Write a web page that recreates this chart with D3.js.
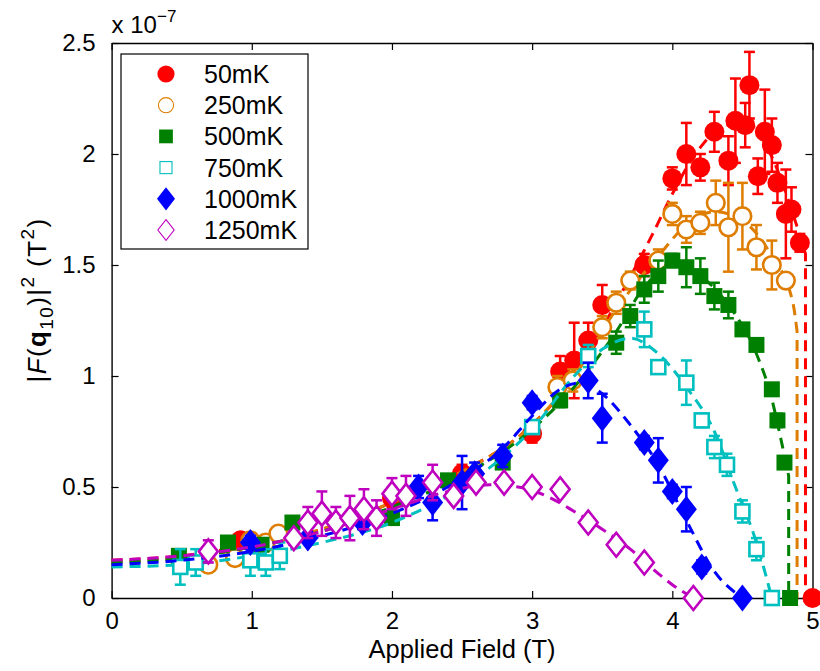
<!DOCTYPE html>
<html>
<head>
<meta charset="utf-8">
<script src="https://cdn.jsdelivr.net/npm/d3@7"></script>
<style>
  html, body { margin: 0; padding: 0; background: #fff; }
  text { font-family: "Liberation Sans", Arial, Helvetica, sans-serif; fill: #000; }
</style>
</head>
<body>
<svg id="chart" width="820" height="671"></svg>
<script>
// ---------- data (y in units of 1e-7 T^2) ----------
const seriesLabels = ["50mK", "250mK", "500mK", "750mK", "1000mK", "1250mK"];
const seriesColors = ["#ff0000", "#de7d00", "#008000", "#00bfbf", "#0000ff", "#bf00bf"];
const seriesShapes = ["circle", "circle", "square", "square", "diamond", "diamond"];
const seriesFilled = [true, false, true, false, true, false];

const field_50 = [0.92, 2.0, 2.5, 3.0, 3.2, 3.3, 3.4, 3.5, 3.8, 4.0, 4.1, 4.2, 4.3, 4.4, 4.45, 4.52, 4.55, 4.61, 4.66, 4.71, 4.75, 4.81, 4.85, 4.91, 5.0];
const value_50 = [0.26, 0.45, 0.56, 0.74, 1.02, 1.07, 1.16, 1.32, 1.50, 1.89, 2.00, 1.94, 2.10, 1.97, 2.15, 2.13, 2.31, 1.90, 2.10, 2.04, 1.87, 1.73, 1.75, 1.60, 0];
const error_50 = [0.03, 0.04, 0.04, 0.04, 0.07, 0.17, 0.08, 0.09, 0.05, 0.05, 0.14, 0.06, 0.09, 0.11, 0.19, 0.10, 0.15, 0.08, 0.19, 0.12, 0.09, 0.20, 0.10, 0.04, 0];

const field_250 = [0.69, 0.88, 0.99, 1.10, 1.19, 3.18, 3.29, 3.50, 3.60, 3.70, 3.90, 4.00, 4.10, 4.20, 4.31, 4.40, 4.50, 4.60, 4.71, 4.81];
const value_250 = [0.15, 0.18, 0.26, 0.25, 0.29, 0.95, 0.98, 1.22, 1.33, 1.43, 1.52, 1.73, 1.66, 1.69, 1.78, 1.67, 1.72, 1.58, 1.50, 1.43];
const error_250 = [0.03, 0.02, 0.03, 0.02, 0.03, 0.05, 0.05, 0.05, 0.05, 0.04, 0.05, 0.05, 0.06, 0.05, 0.10, 0.20, 0.15, 0.10, 0.11, 0.02];

const field_500 = [0.48, 0.83, 1.07, 1.29, 2.0, 2.4, 2.79, 3.2, 3.6, 3.7, 3.8, 3.9, 4.0, 4.1, 4.2, 4.3, 4.4, 4.5, 4.6, 4.71, 4.75, 4.8, 4.84];
const value_500 = [0.19, 0.25, 0.24, 0.34, 0.36, 0.53, 0.61, 0.89, 1.15, 1.27, 1.39, 1.45, 1.52, 1.49, 1.45, 1.36, 1.32, 1.21, 1.14, 0.94, 0.80, 0.61, 0];
const error_500 = [0.02, 0.02, 0.02, 0.02, 0.02, 0.02, 0.02, 0.03, 0.05, 0.05, 0.06, 0.07, 0.03, 0.09, 0.08, 0.06, 0.06, 0.02, 0.02, 0.02, 0.03, 0.02, 0];

const field_750 = [0.49, 0.60, 0.99, 1.10, 1.20, 3.0, 3.4, 3.8, 3.9, 4.1, 4.21, 4.3, 4.39, 4.5, 4.6, 4.71];
const value_750 = [0.14, 0.16, 0.17, 0.16, 0.19, 0.77, 1.09, 1.21, 1.04, 0.97, 0.80, 0.68, 0.60, 0.39, 0.22, 0];
const error_750 = [0.08, 0.06, 0.07, 0.06, 0.06, 0.03, 0.05, 0.08, 0.03, 0.10, 0.03, 0.05, 0.05, 0.05, 0.05, 0];

const field_1000 = [0.99, 1.40, 1.79, 2.19, 2.29, 2.50, 2.59, 2.79, 3.0, 3.4, 3.5, 3.8, 3.9, 4.0, 4.1, 4.21, 4.5];
const value_1000 = [0.25, 0.27, 0.34, 0.50, 0.43, 0.52, 0.56, 0.64, 0.88, 0.98, 0.81, 0.70, 0.62, 0.48, 0.40, 0.14, 0];
const error_1000 = [0.03, 0.02, 0.03, 0.05, 0.08, 0.12, 0.05, 0.05, 0.03, 0.08, 0.11, 0.03, 0.10, 0.03, 0.10, 0.03, 0];

const field_1250 = [0.69, 1.30, 1.40, 1.50, 1.60, 1.70, 1.80, 1.89, 2.0, 2.10, 2.29, 2.44, 2.60, 2.80, 3.0, 3.2, 3.4, 3.6, 3.8, 4.15];
const value_1250 = [0.21, 0.27, 0.34, 0.38, 0.34, 0.36, 0.40, 0.36, 0.47, 0.46, 0.52, 0.46, 0.52, 0.52, 0.50, 0.49, 0.34, 0.24, 0.16, 0];
const error_1250 = [0.05, 0.03, 0.07, 0.10, 0.07, 0.10, 0.09, 0.08, 0.07, 0.09, 0.08, 0.02, 0.02, 0.02, 0.02, 0.02, 0.02, 0.02, 0.02, 0];

// dashed model curves
const fitX_50 = [0, 0.5, 1, 1.5, 2, 2.5, 3, 3.3, 3.6, 3.86, 4.0, 4.2, 4.4, 4.55, 4.7, 4.85, 4.95, 4.95];
const fitY_50 = [0.17, 0.19, 0.24, 0.31, 0.43, 0.57, 0.78, 1.0, 1.33, 1.64, 1.82, 2.03, 2.13, 2.13, 2.0, 1.75, 1.55, 0];
const fitX_250 = [0, 0.5, 1, 1.5, 2, 2.5, 3, 3.3, 3.6, 3.9, 4.1, 4.3, 4.5, 4.7, 4.86, 4.89, 4.89];
const fitY_250 = [0.16, 0.18, 0.23, 0.31, 0.43, 0.57, 0.78, 1.0, 1.30, 1.54, 1.68, 1.74, 1.70, 1.55, 1.33, 1.2, 0];
const fitX_500 = [0, 0.5, 1, 1.5, 2, 2.5, 3, 3.3, 3.6, 3.8, 4.0, 4.2, 4.4, 4.6, 4.7, 4.78, 4.83, 4.83];
const fitY_500 = [0.16, 0.18, 0.23, 0.30, 0.41, 0.55, 0.76, 0.95, 1.20, 1.40, 1.50, 1.45, 1.32, 1.10, 0.92, 0.70, 0.55, 0];
const fitX_750 = [0, 0.5, 1, 1.5, 2, 2.5, 2.8, 3.0, 3.3, 3.5, 3.7, 3.9, 4.1, 4.3, 4.45, 4.6, 4.71];
const fitY_750 = [0.14, 0.15, 0.19, 0.25, 0.34, 0.50, 0.64, 0.76, 1.00, 1.12, 1.17, 1.10, 0.95, 0.75, 0.50, 0.25, 0];
const fitX_1000 = [0, 0.5, 1, 1.5, 2, 2.5, 2.8, 3.0, 3.2, 3.35, 3.5, 3.7, 3.9, 4.1, 4.3, 4.5];
const fitY_1000 = [0.15, 0.17, 0.21, 0.28, 0.38, 0.54, 0.68, 0.82, 0.94, 0.97, 0.92, 0.78, 0.60, 0.35, 0.12, 0];
const fitX_1250 = [0, 0.5, 1, 1.5, 2, 2.4, 2.7, 2.9, 3.1, 3.3, 3.5, 3.7, 3.9, 4.0, 4.15];
const fitY_1250 = [0.17, 0.19, 0.23, 0.30, 0.40, 0.48, 0.51, 0.50, 0.46, 0.39, 0.31, 0.22, 0.11, 0.06, 0];

const xTicks = [0, 1, 2, 3, 4, 5];
const yTicks = [0, 0.5, 1, 1.5, 2, 2.5];

// ---------- build ----------
const fields = [field_50, field_250, field_500, field_750, field_1000, field_1250];
const values = [value_50, value_250, value_500, value_750, value_1000, value_1250];
const errors = [error_50, error_250, error_500, error_750, error_1000, error_1250];
const fitXs = [fitX_50, fitX_250, fitX_500, fitX_750, fitX_1000, fitX_1250];
const fitYs = [fitY_50, fitY_250, fitY_500, fitY_750, fitY_1000, fitY_1250];

const svg = d3.select("#chart");
const L = 111.6, R = 812.5, T = 43, B = 598;
const x = d3.scaleLinear().domain([0, 5]).range([L, R]);
const y = d3.scaleLinear().domain([0, 2.5]).range([B, T]);

const FS = 24;

// axes (box with inward ticks)
const gx = svg.append("g").attr("transform", `translate(0,${B})`)
  .call(d3.axisBottom(x).tickValues(xTicks).tickSizeInner(-7).tickSizeOuter(0).tickPadding(14).tickFormat(d3.format("d")));
const gxt = svg.append("g").attr("transform", `translate(0,${T})`)
  .call(d3.axisTop(x).tickValues(xTicks).tickSizeInner(-7).tickSizeOuter(0).tickFormat(""));
const gy = svg.append("g").attr("transform", `translate(${L},0)`)
  .call(d3.axisLeft(y).tickValues(yTicks).tickSizeInner(-7).tickSizeOuter(0).tickPadding(16).tickFormat(d => d === 0 ? "0" : String(d)));
const gyr = svg.append("g").attr("transform", `translate(${R},0)`)
  .call(d3.axisRight(y).tickValues(yTicks).tickSizeInner(-7).tickSizeOuter(0).tickFormat(""));
[gx, gxt, gy, gyr].forEach(g => {
  g.select(".domain").attr("stroke", "#000").attr("stroke-width", 1.4);
  g.selectAll(".tick line").attr("stroke", "#000").attr("stroke-width", 1.2);
  g.selectAll("text").style("font-size", FS + "px").attr("fill", "#000");
});
gx.selectAll("text").attr("dy", "0.71em");

// multiplier
const mult = svg.append("text").attr("x", L).attr("y", 33).style("font-size", FS + "px");
mult.append("tspan").text("x 10");
mult.append("tspan").attr("dy", -11).style("font-size", "17px").text("\u22127");

// axis labels
svg.append("text").attr("x", x(2.5)).attr("y", 658).attr("text-anchor", "middle")
  .style("font-size", "25.5px").text("Applied Field (T)");

const yl = svg.append("text").attr("transform", `translate(46,300) rotate(-90)`)
  .attr("text-anchor", "middle").style("font-size", "26px").style("letter-spacing", "1.4px");
yl.append("tspan").text("|");
yl.append("tspan").style("font-style", "italic").text("F");
yl.append("tspan").text("(");
yl.append("tspan").style("font-weight", "bold").text("q");
yl.append("tspan").attr("dy", 7).style("font-size", "19px").text("10");
yl.append("tspan").attr("dy", -7).text(")|");
yl.append("tspan").attr("dy", -12).style("font-size", "19px").text("2");
yl.append("tspan").attr("dy", 12).text(" (T");
yl.append("tspan").attr("dy", -12).style("font-size", "19px").text("2");
yl.append("tspan").attr("dy", 12).text(")");

// marker drawer
function drawMarker(g, shape, filled, color, cx, cy, scale, sw) {
  if (shape === "circle") {
    g.append("circle").attr("cx", cx).attr("cy", cy).attr("r", (filled ? 10 : 8.8) * scale)
      .attr("fill", filled ? color : "#fff").attr("stroke", color).attr("stroke-width", filled ? 0 : sw);
  } else if (shape === "square") {
    const s = (filled ? 16 : 14) * scale;
    g.append("rect").attr("x", cx - s / 2).attr("y", cy - s / 2).attr("width", s).attr("height", s)
      .attr("fill", filled ? color : "#fff").attr("stroke", color).attr("stroke-width", filled ? 0 : sw);
  } else {
    const w = (filled ? 10.5 : 9.5) * scale, h = (filled ? 13.5 : 12) * scale;
    g.append("path").attr("d", `M${cx},${cy - h}L${cx + w},${cy}L${cx},${cy + h}L${cx - w},${cy}Z`)
      .attr("fill", filled ? color : "#fff").attr("stroke", color).attr("stroke-width", filled ? 0 : sw)
      .attr("stroke-linejoin", "miter");
  }
}

const line = d3.line().x(d => x(d[0])).y(d => y(d[1])).curve(d3.curveMonotoneX);

seriesLabels.forEach((lab, i) => {
  const g = svg.append("g");
  const col = seriesColors[i];
  // dashed model curve: smooth part + final vertical drop
  const pts = fitXs[i].map((fx, k) => [fx, fitYs[i][k]]);
  const n = pts.length;
  const lastTwoSameX = pts[n - 1][0] === pts[n - 2][0];
  const smooth = lastTwoSameX ? pts.slice(0, n - 1) : pts;
  let d = line(smooth);
  if (lastTwoSameX) d += `L${x(pts[n - 1][0])},${y(pts[n - 1][1])}`;
  g.append("path").attr("d", d).attr("fill", "none").attr("stroke", col)
    .attr("stroke-width", 3).attr("stroke-dasharray", "11,7");
  // error bars
  fields[i].forEach((fx, k) => {
    const e = errors[i][k];
    if (!e) return;
    const px = x(fx), y1 = y(values[i][k] - e), y2 = y(values[i][k] + e);
    g.append("line").attr("x1", px).attr("x2", px).attr("y1", y1).attr("y2", y2).attr("stroke", col).attr("stroke-width", 2.5);
    g.append("line").attr("x1", px - 5.5).attr("x2", px + 5.5).attr("y1", y1).attr("y2", y1).attr("stroke", col).attr("stroke-width", 2.5);
    g.append("line").attr("x1", px - 5.5).attr("x2", px + 5.5).attr("y1", y2).attr("y2", y2).attr("stroke", col).attr("stroke-width", 2.5);
  });
  // markers
  fields[i].forEach((fx, k) => {
    drawMarker(g, seriesShapes[i], seriesFilled[i], col, x(fx), y(values[i][k]), 1, 2.6);
  });
});

// legend
const lg = svg.append("g");
lg.append("rect").attr("x", 121).attr("y", 54).attr("width", 187).attr("height", 195)
  .attr("fill", "#fff").attr("stroke", "#000").attr("stroke-width", 1.2);
seriesLabels.forEach((lab, i) => {
  const cy = 74 + i * 31.2;
  drawMarker(lg, seriesShapes[i], seriesFilled[i], seriesColors[i], 166, cy, 0.86, 1.1);
  lg.append("text").attr("x", 204).attr("y", cy).attr("dy", "0.36em").style("font-size", "25px").text(lab);
});
</script>
</body>
</html>
